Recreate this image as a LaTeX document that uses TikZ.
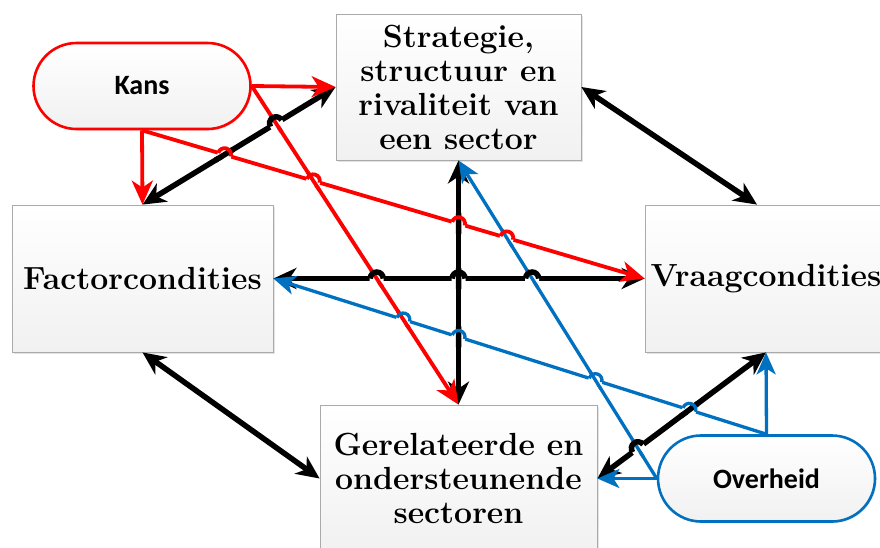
\documentclass[tikz,border=0pt]{standalone}
\usepackage{fontspec}
\newfontfamily\calibri{Carlito}
\usetikzlibrary{arrows.meta,calc,shadows,shapes.misc}
\definecolor{ocblue}{RGB}{0,112,192}
\definecolor{ocred}{RGB}{255,0,0}
\definecolor{boxline}{RGB}{170,170,170}
\newcommand\hopover[6]{%
  \coordinate (hp) at (intersection of #3--#4 and #5--#6);
  \draw[white, line width=8pt] ($(hp)!7pt!(#3)$) -- ($(hp)!7pt!(#4)$);
  \draw[#2] ($(hp)!10.5pt!(#5)$) -- ($(hp)!10.5pt!(#6)$);
  \draw[#1] let \p1=($(#4)-(#3)$), \n1={atan2(\y1,\x1)} in
    ($(hp)!6.5pt!(#3)$) arc[start angle=\n1+180, end angle=\n1, radius=6.5pt];
}
\begin{document}
\begin{tikzpicture}[x=1pt,y=-1pt,
  box/.style={draw=boxline, line width=0.8pt, top color=white, bottom color=gray!11,
    drop shadow={opacity=0.22,shadow xshift=1.5pt,shadow yshift=-1.5pt},
    align=center, inner sep=0pt, font=\fontsize{32}{34}\selectfont\bfseries},
  pill/.style={rounded rectangle, line width=2.6pt, top color=white, bottom color=gray!11,
    drop shadow={opacity=0.18,shadow xshift=1.5pt,shadow yshift=-1.5pt},
    minimum width=217pt, minimum height=86pt, inner sep=0pt,
    font=\calibri\bfseries\fontsize{28}{30}\selectfont},
  blk/.style={line width=5.5pt, black},
  redl/.style={line width=3.8pt, ocred},
  bluel/.style={line width=3.3pt, ocblue},
  btip/.tip={Stealth[length=23pt,width=21pt,inset=7pt]},
  rtip/.tip={Stealth[length=24pt,width=21pt,inset=7pt]},
  utip/.tip={Stealth[length=22pt,width=19pt,inset=6pt]},
  barrow/.style={blk, btip-btip},
  rarrow/.style={redl, -rtip},
  uarrow/.style={bluel, -utip}
]
\useasboundingbox (0,0) rectangle (880,547);
\fill[white] (0,0) rectangle (880,547);

% boxes
\node[box, minimum width=245pt, minimum height=146pt] (strat) at (458.5,87)
  {Strategie,\\structuur en\\rivaliteit van\\een sector};
\node[box, minimum width=261pt, minimum height=147pt] (factor) at (142.5,278.5)
  {Factorcondities};
\node[box, minimum width=242pt, minimum height=147pt] (vraag) at (766,278.5)
  {Vraagcondities};
\node[box, minimum width=277pt, minimum height=147pt] (gerel) at (458.5,478.5)
  {Gerelateerde en\\ondersteunende\\sectoren};
\node[pill, draw=ocred] (kans) at (142,86) {Kans};
\node[pill, draw=ocblue] (overheid) at (766.5,478.5) {Overheid};

\coordinate (vtop) at ([xshift=-9pt]vraag.north);
\coordinate (vbot) at (vraag.south);

% black connectors
\draw[barrow] (factor.north) -- (strat.west);
\draw[barrow] (strat.east) -- (vtop);
\draw[barrow] (factor.south) -- (gerel.west);
\draw[barrow] (gerel.east) -- (vbot);
\draw[barrow] (factor.east) -- (vraag.west);
\draw[barrow] (strat.south) -- (gerel.north);

% red connectors (Kans)
\draw[rarrow] (kans.east) -- (strat.west);
\draw[rarrow] (kans.east) -- (gerel.north);
\draw[rarrow] (kans.south) -- (factor.north);
\draw[rarrow] (kans.south) -- (vraag.west);

% blue connectors (Overheid)
\draw[uarrow] (overheid.north) -- (vbot);
\draw[uarrow] (overheid.north) -- (factor.east);
\draw[uarrow] (overheid.west) -- (gerel.east);
\draw[uarrow] (overheid.west) -- (strat.south);

% line jumps
\hopover{blk}{redl}{factor.north}{strat.west}{kans.east}{gerel.north}
\hopover{redl}{blk}{kans.south}{vraag.west}{factor.north}{strat.west}
\hopover{redl}{redl}{kans.south}{vraag.west}{kans.east}{gerel.north}
\hopover{redl}{blk}{kans.south}{vraag.west}{strat.south}{gerel.north}
\hopover{redl}{bluel}{kans.south}{vraag.west}{overheid.west}{strat.south}
\hopover{blk}{redl}{factor.east}{vraag.west}{kans.east}{gerel.north}
\hopover{blk}{blk}{factor.east}{vraag.west}{strat.south}{gerel.north}
\hopover{blk}{bluel}{factor.east}{vraag.west}{overheid.west}{strat.south}
\hopover{bluel}{redl}{factor.east}{overheid.north}{kans.east}{gerel.north}
\hopover{bluel}{blk}{factor.east}{overheid.north}{strat.south}{gerel.north}
\hopover{bluel}{bluel}{factor.east}{overheid.north}{overheid.west}{strat.south}
\hopover{bluel}{blk}{factor.east}{overheid.north}{gerel.east}{vbot}
\hopover{blk}{bluel}{gerel.east}{vbot}{overheid.west}{strat.south}
\end{tikzpicture}
\end{document}
